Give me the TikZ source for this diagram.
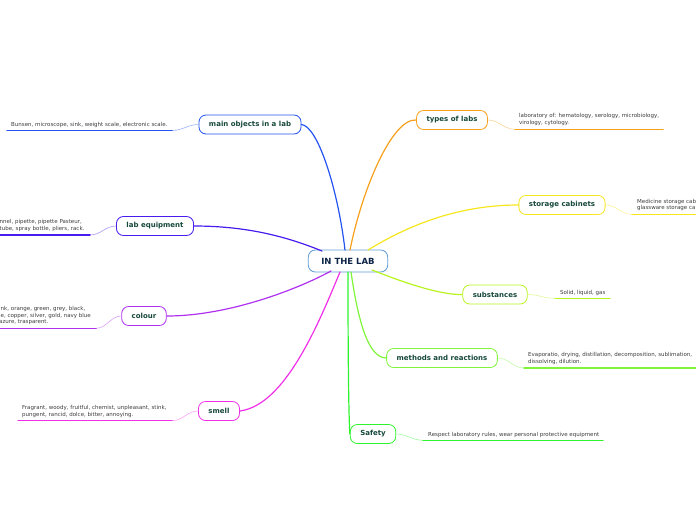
\documentclass[tikz,border=0pt]{standalone}
\usepackage{fontspec}
\setmainfont{DejaVu Sans}
\definecolor{Tgreen}{RGB}{22,72,58}
\definecolor{Tnavy}{RGB}{14,36,72}
\definecolor{Ltext}{RGB}{60,60,60}
\definecolor{Cmain}{RGB}{36,84,240}
\definecolor{Cequip}{RGB}{72,28,238}
\definecolor{Ccolour}{RGB}{176,48,240}
\definecolor{Csmell}{RGB}{240,48,232}
\definecolor{Ctypes}{RGB}{247,160,28}
\definecolor{Cstore}{RGB}{246,230,30}
\definecolor{Csubst}{RGB}{184,244,30}
\definecolor{Cmeth}{RGB}{126,244,58}
\definecolor{Csafe}{RGB}{46,244,46}
\definecolor{Ccenter}{RGB}{96,156,212}

\begin{document}
\begin{tikzpicture}[x=1pt,y=-1pt,line cap=round,
  topic/.style={draw=#1,line width=0.8pt,fill=white,rounded corners=7pt,minimum height=19pt,inner xsep=10pt,inner ysep=0pt,text=Tgreen,font=\bfseries\fontsize{7}{8}\selectfont},
  leaf/.style={anchor=base west,inner sep=0pt,align=left,text=Ltext,font=\fontsize{5.5}{6.5}\selectfont},
  branch/.style={draw=#1,line width=1.2pt},
  twig/.style={draw=#1!45,line width=0.6pt},
  rule/.style={draw=#1,line width=1.5pt}]
\useasboundingbox (0,0) rectangle (696,520);
\clip (0,0) rectangle (696,520);

% centre
\node[topic=Ccenter,minimum height=22pt,inner xsep=13pt,text=Tnavy,font=\bfseries\fontsize{8.5}{9}\selectfont] (lab) at (348,261) {IN THE LAB};

% topics
\node[topic=Cmain] (mo) at (250,124.5) {main objects in a lab};
\node[topic=Cequip] (le) at (155,226) {lab equipment};
\node[topic=Ccolour] (co) at (144,316) {colour};
\node[topic=Csmell] (sm) at (219,411) {smell};
\node[topic=Ctypes] (tl) at (452,120) {types of labs};
\node[topic=Cstore] (sc) at (562,205) {storage cabinets};
\node[topic=Csubst] (su) at (495,294.5) {substances};
\node[topic=Cmeth] (mr) at (442,358) {methods and reactions};
\node[topic=Csafe] (sf) at (373,434) {Safety};

% branches
\draw[branch=Cmain] (mo.east) .. controls (318,126) and (338,190) .. (345,250);
\draw[branch=Cequip] (le.east) .. controls (250,226) and (290,238) .. (322,251);
\draw[branch=Ccolour] (co.east) .. controls (230,316) and (300,288) .. (331,271);
\draw[branch=Csmell] (sm.east) .. controls (285,405) and (318,325) .. (340,272);
\draw[branch=Ctypes] (tl.west) .. controls (392,118) and (362,190) .. (350,250);
\draw[branch=Cstore] (sc.west) .. controls (470,205) and (420,218) .. (368,250);
\draw[branch=Csubst] (su.west) .. controls (440,295) and (405,283) .. (372,270);
\draw[branch=Cmeth] (mr.west) .. controls (368,358) and (358,320) .. (351,272);
\draw[branch=Csafe] (sf.west) .. controls (349,420) and (348,380) .. (348,272);

% leaves
\node[leaf] (moT) at (11,126) {Bunsen, microscope, sink, weight scale, electronic scale.};
\coordinate (moA) at (172,130.5);
\coordinate (moB) at (7,130.5);
\draw[twig=Cmain] (mo.west) to[out=180,in=0] (moA);
\draw[rule=Cmain] (moA) -- (moB);

\node[leaf] (leT) at (-0.5,230) {nnel, pipette, pipette Pasteur,\\tube, spray bottle, pliers, rack.};
\coordinate (leA) at (90,235);
\coordinate (leB) at (-2,235);
\draw[twig=Cequip] (le.west) to[out=180,in=0] (leA);
\draw[rule=Cequip] (leA) -- (leB);

\node[leaf] (coT) at (-1,323.5) {ink, orange, green, grey, black,\\le, copper, silver, gold, navy blue\\azure, trasparent.};
\coordinate (coA) at (96,328.3);
\coordinate (coB) at (-2,328.3);
\draw[twig=Ccolour] (co.west) to[out=180,in=0] (coA);
\draw[rule=Ccolour] (coA) -- (coB);

\node[leaf] (smT) at (22,416) {Fragrant, woody, fruitful, chemist, unpleasant, stink,\\pungent, rancid, dolce, bitter, annoying.};
\coordinate (smA) at (172,420.7);
\coordinate (smB) at (18,420.7);
\draw[twig=Csmell] (sm.west) to[out=180,in=0] (smA);
\draw[rule=Csmell] (smA) -- (smB);

\node[leaf] (tlT) at (519,124) {laboratory of: hematology, serology, microbiology,\\virology, cytology.};
\coordinate (tlA) at (515,129.3);
\coordinate (tlB) at (663,129.3);
\draw[twig=Ctypes] (tl.east) to[out=0,in=180] (tlA);
\draw[rule=Ctypes] (tlA) -- (tlB);

\node[leaf] (scT) at (637,209.5) {Medicine storage cabinet,\\glassware storage cabinet.};
\coordinate (scA) at (632,214.3);
\coordinate (scB) at (698,214.3);
\draw[twig=Cstore] (sc.east) to[out=0,in=180] (scA);
\draw[rule=Cstore] (scA) -- (scB);

\node[leaf] (suT) at (560,294) {Solid, liquid, gas};
\coordinate (suA) at (555,298.3);
\coordinate (suB) at (610,298.3);
\draw[twig=Csubst] (su.east) to[out=0,in=180] (suA);
\draw[rule=Csubst] (suA) -- (suB);

\node[leaf] (mrT) at (528,363) {Evaporatio, drying, distillation, decomposition, sublimation,\\dissolving, dilution.};
\coordinate (mrA) at (524,368);
\coordinate (mrB) at (698,368);
\draw[twig=Cmeth] (mr.east) to[out=0,in=180] (mrA);
\draw[rule=Cmeth] (mrA) -- (mrB);

\node[leaf] (sfT) at (428,436) {Respect laboratory rules, wear personal protective equipment};
\coordinate (sfA) at (423,440.3);
\coordinate (sfB) at (603,440.3);
\draw[twig=Csafe] (sf.east) to[out=0,in=180] (sfA);
\draw[rule=Csafe] (sfA) -- (sfB);
\end{tikzpicture}
\end{document}
